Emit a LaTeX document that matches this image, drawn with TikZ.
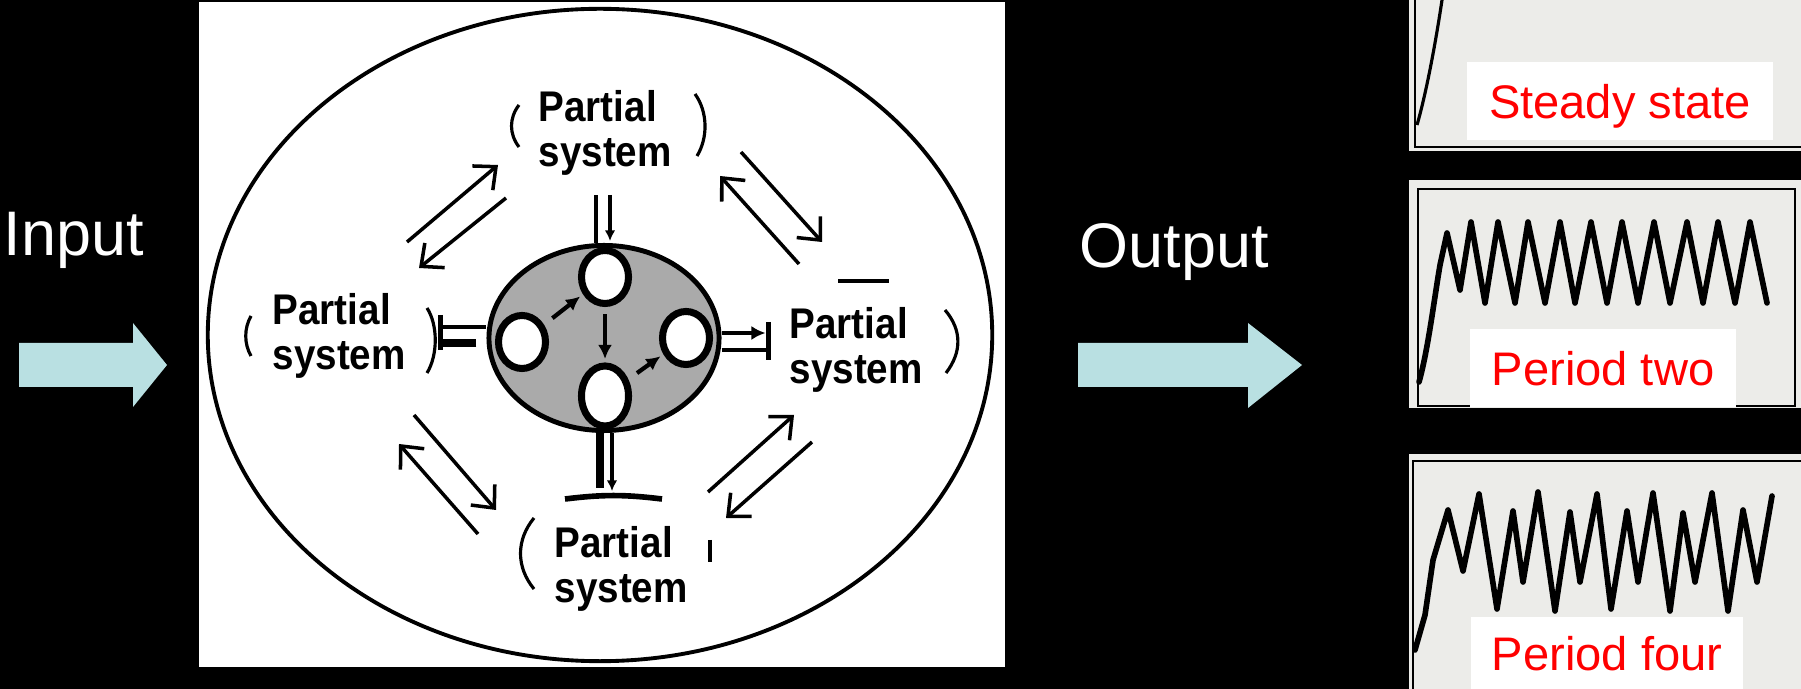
\documentclass[tikz,border=0pt]{standalone}
\usepackage{fontspec}
\setmainfont{Liberation Sans}
\newfontfamily\labfont[FakeStretch=0.9]{Liberation Sans}
\usepackage{tikz}
\usepackage{xcolor}
\usetikzlibrary{arrows.meta,shapes.geometric,calc}

\definecolor{arrowblue}{RGB}{185,224,226}
\definecolor{paper}{RGB}{236,236,233}
\definecolor{coregray}{RGB}{170,170,170}

\begin{document}
\begin{tikzpicture}[x=0.01cm, y=-0.01cm,
  part/.style={font={\labfont\bfseries\fontsize{12.2}{12.8}\selectfont}, align=left, inner sep=0pt, anchor=west},
  cell/.style={ellipse, draw, line width=2pt, fill=white, minimum width=0.47cm, minimum height=0.53cm, inner sep=0pt},
  flow/.style={line width=1pt, -{Straight Barb[length=5pt,width=9pt]}},
  stub/.style={line width=1.3pt},
  brk/.style={line width=0.9pt},
  tag/.style={fill=white, text=red, font=\fontsize{13.4}{14}\selectfont, inner sep=0pt, text depth=0pt},
  wave/.style={line width=1.6pt, line join=round, line cap=round}]

\useasboundingbox (0,0) rectangle (1801,689);
\fill[black] (0,0) rectangle (1801,689);

% input and output
\fill[arrowblue] (19,343) -- (133,343) -- (133,323) -- (167,365) -- (133,407) -- (133,387) -- (19,387) -- cycle;
\fill[arrowblue] (1078,343) -- (1248,343) -- (1248,323) -- (1302,365) -- (1248,408) -- (1248,387) -- (1078,387) -- cycle;
\node[text=white, font=\fontsize{17.9}{20}\selectfont, inner sep=0pt, anchor=west] (input) at (3,240) {Input};
\node[text=white, font=\fontsize{17.9}{20}\selectfont, inner sep=0pt, anchor=west] (output) at (1079,252) {Output};

% the system
\fill[white] (199,2) rectangle (1005,667);
\draw[line width=1.1pt] (600,335) ellipse [x radius=3.92cm, y radius=3.26cm];
\node[ellipse, draw, fill=coregray, line width=1.4pt, minimum width=2.3cm, minimum height=1.85cm] (core) at (604,338) {};

% stubs to the core
\draw[stub] ($(core.north)+(-8,0)$) -- ++(0,-48);
\draw[stub, -{Latex[length=3pt,width=3pt]}] ($(core.north)+(6,-48)$) -- ++(0,46);
\draw[stub] ($(core.west)+(0,-11)$) -- ++(-46,0);
\draw[line width=2.4pt] ($(core.west)+(-10,5)$) -- ++(-36,0);
\draw[line width=1.6pt] ($(core.west)+(-46,-23)$) -- ++(0,35);
\draw[stub, -{Latex[length=4pt,width=4pt]}] ($(core.east)+(0,-5)$) -- ++(44,0);
\draw[stub] ($(core.east)+(0,12)$) -- ++(44,0);
\draw[line width=1.6pt] ($(core.east)+(47,-16)$) -- ++(0,38);
\draw[line width=2.2pt] ($(core.south)+(-4,0)$) -- ++(0,55);
\draw[stub, -{Latex[length=3pt,width=3pt]}] ($(core.south)+(8,0)$) -- ++(0,58);
\draw[line width=1.6pt] ($(core.south)+(-39,66)$) to[bend left=7] ++(97,0);

% cells
\node[cell] (ctop) at (605,277) {};
\node[cell] (cleft) at (522,342) {};
\node[cell] (cright) at (686,338) {};
\node[cell, minimum height=0.6cm] (cbot) at (605,396) {};
\draw[line width=1.2pt, -{Latex[length=4pt,width=4pt]}, shorten <=3pt, shorten >=1pt] (cleft) -- (ctop);
\draw[line width=1.2pt, -{Latex[length=4pt,width=4pt]}, shorten <=2pt, shorten >=1pt] (ctop) -- (cbot);
\draw[line width=1.2pt, -{Latex[length=4pt,width=4pt]}, shorten <=3pt, shorten >=1pt] (cbot) -- (cright);

% partial systems
\node[part] (ptop) at (538,133) {Partial\\system};
\node[part] (pleft) at (272,336) {Partial\\system};
\node[part] (pright) at (789,350) {Partial\\system};
\node[part] (pbot) at (554,569) {Partial\\system};

\draw[brk] (519,105) .. controls (509,118) and (509,134) .. (519,147);
\draw[brk] (695,94) .. controls (708,112) and (708,138) .. (697,156);
\draw[brk] (251,316) .. controls (244,328) and (244,344) .. (251,356);
\draw[brk] (427,308) .. controls (438,325) and (438,355) .. (427,373);
\draw[brk] (945,310) .. controls (962,330) and (962,352) .. (946,373);
\draw[brk] (838,281) -- (889,281);
\draw[brk] (534,518) .. controls (516,540) and (516,567) .. (534,589);
\draw[brk] (710,540) -- (710,562);

% exchanges between partial systems
\foreach \sx/\sy/\ex/\ey [count=\i] in {407/242/498/165, 506/198/419/268, 741/152/822/242, 799/264/720/176,
    414/415/496/510, 478/534/399/444, 708/492/794/415, 812/442/726/518}
{
  \coordinate (f\i a) at (\sx,\sy);
  \coordinate (f\i b) at (\ex,\ey);
  \draw[flow] (f\i a) -- (f\i b);
}

% steady state
\fill[paper] (1409,0) rectangle (1801,151);
\draw[line width=0.8pt] (1415,0) -- (1415,147) -- (1801,147);
\draw[line width=0.9pt] (1417,125) .. controls (1427,90) and (1436,40) .. (1442,0);
\node[tag, minimum width=3.06cm, minimum height=0.78cm] (steady) at (1620,101) {Steady state};

% period two
\fill[paper] (1409,180) rectangle (1801,408);
\draw[line width=0.8pt] (1418,189) rectangle (1795,406);
\draw[wave] (1419,382) .. controls (1428,350) and (1434,300) .. (1440,265) -- (1447,233) -- (1460,290)
  \foreach \p/\t in {1471/1485, 1498/1515, 1528/1545, 1560/1575, 1591/1607, 1622/1638, 1654/1670, 1687/1703, 1718/1735, 1750/1767} { -- (\p,222) -- (\t,303) };
\node[tag, minimum width=2.66cm, minimum height=0.77cm] (ptwo) at (1603,368) {Period two};

% period four
\fill[paper] (1409,454) rectangle (1801,689);
\draw[line width=0.8pt] (1413,689) -- (1413,461) -- (1801,461);
\draw[wave] (1415,650) -- (1425,615) -- (1433,560) -- (1448,510) -- (1463,571)
  \foreach \x/\y in {1479/494, 1497/609, 1513/511, 1523/582, 1538/492, 1555/611, 1570/512, 1580/582, 1597/494, 1611/609, 1627/511,
    1638/582, 1653/493, 1670/611, 1683/513, 1695/582, 1712/493, 1728/611, 1743/510, 1757/582, 1772/496} { -- (\x,\y) };
\node[tag, minimum width=2.72cm, minimum height=0.72cm] (pfour) at (1607,653) {Period four};
\end{tikzpicture}
\end{document}
